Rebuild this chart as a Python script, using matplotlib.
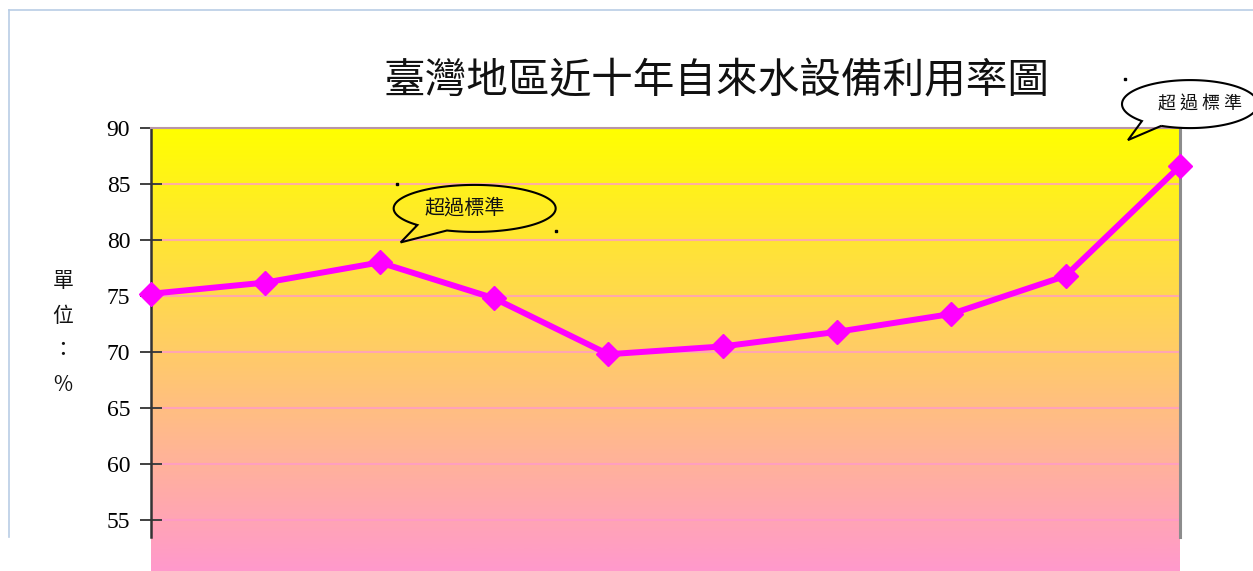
import numpy as np
import matplotlib
matplotlib.use("Agg")
import matplotlib.pyplot as plt
from matplotlib.patches import Polygon
from matplotlib.lines import Line2D
from matplotlib.transforms import IdentityTransform

plt.rcParams['font.family'] = ['Noto Sans CJK TC', 'DejaVu Sans']

# data
years_idx = list(range(10))
usage_rate = [75.2, 76.2, 78.0, 74.8, 69.8, 70.5, 71.8, 73.4, 76.8, 86.6]
y_ticks = [55, 60, 65, 70, 75, 80, 85, 90]
title = "臺灣地區近十年自來水設備利用率圖"
ylabel_chars = ["單", "位", "：", "%"]
callout_text = "超過標準"
callout_points = [2, 9]

W, H = 1253, 571
fig = plt.figure(figsize=(W / 100, H / 100), dpi=100)
ax = fig.add_axes([151 / W, 0, (1180 - 151) / W, (H - 128) / H])
ymin, ymax = 50.45, 90
ax.set_xlim(0, 9)
ax.set_ylim(ymin, ymax)

# yellow -> pink vertical gradient
top = np.array([1.0, 1.0, 0.0])
bottom = np.array([1.0, 0.6, 0.8])
t = np.linspace(0, 1, 256)[:, None]
grad = (top * (1 - t) + bottom * t)[:, None, :]
ax.imshow(grad, extent=(0, 9, ymin, ymax), aspect="auto", zorder=0)

for v in y_ticks:
    ax.axhline(v, color="#ff99cc", lw=1.5, alpha=0.75, zorder=1)

ax.plot(years_idx, usage_rate, color="#ff00ff", lw=4.3, marker="D",
        markersize=12.5, clip_on=False, zorder=3)

ax.set_yticks(y_ticks)
ax.set_xticks([])
ax.tick_params(axis="y", direction="inout", length=16, width=1.4,
               color="#404040", pad=7, labelsize=17)
for lab in ax.get_yticklabels():
    lab.set_fontfamily("Liberation Serif")
    lab.set_fontstretch("condensed")

ax.spines["bottom"].set_visible(False)
ax.spines["left"].set_bounds(53.5, 90)
ax.spines["left"].set_color("#333333")
ax.spines["left"].set_linewidth(1.8)
ax.spines["right"].set_bounds(53.5, 90)
ax.spines["right"].set_color("#8c8c8c")
ax.spines["right"].set_linewidth(2.2)
ax.spines["top"].set_color("#b895a8")
ax.spines["top"].set_linewidth(1.5)

fig.text(716 / W, 1 - 82 / H, title, ha="center", va="center",
         fontsize=30, fontstyle="italic", fontweight="light", color="#111111")

fig.text(63 / W, 1 - 333 / H, "\n".join(ylabel_chars), ha="center", va="center",
         fontsize=15, linespacing=1.75, color="#111111")

# outer frame of the chart object
fig.add_artist(Line2D([9 / W, 9 / W], [1 - 537 / H, 1 - 10 / H], color="#b9cde5", lw=1.2))
fig.add_artist(Line2D([9 / W, 1], [1 - 10 / H, 1 - 10 / H], color="#b9cde5", lw=1.2))


def speech_bubble(anchor, dc, w, h, base_t, tip, text, fs, text_dx, spaced=False):
    # anchor: data point, dc/tip offsets in pixels (y up) from anchor
    ax_pt = ax.transData.transform(anchor)
    cx, cy = ax_pt[0] + dc[0], ax_pt[1] + dc[1]
    t1, t2 = np.radians(base_t[0]), np.radians(base_t[1])
    tt = np.linspace(t2, t1 + 2 * np.pi, 200)
    pts = np.column_stack([cx + w / 2 * np.cos(tt), cy + h / 2 * np.sin(tt)])
    tip_pt = [ax_pt[0] + tip[0], ax_pt[1] + tip[1]]
    pts = np.vstack([pts, tip_pt])
    fig.add_artist(Polygon(pts, closed=True, fill=False, edgecolor="black",
                           lw=1.5, transform=IdentityTransform()))
    for px, py in [(cx - w / 2 + 3, cy + h / 2 + 1), (cx + w / 2, cy - h / 2 + 1)]:
        fig.add_artist(Line2D([px], [py], marker="s", markersize=1.6, color="black",
                              transform=IdentityTransform()))
    label = " ".join(text) if spaced else text
    fig.text((cx + text_dx) / W, cy / H, label, ha="center",
             va="center", fontsize=fs, color="#111111")


p0, p1 = callout_points
speech_bubble((years_idx[p0], usage_rate[p0]), (95, 54), 162, 47, (225, 250),
              (21, 20), callout_text, 14.5, -10)
speech_bubble((years_idx[p1], usage_rate[p1]), (10, 62), 136, 48, (225, 245),
              (-52, 26), callout_text, 13, 10, spaced=True)

fig.savefig("out.png", dpi=100)
